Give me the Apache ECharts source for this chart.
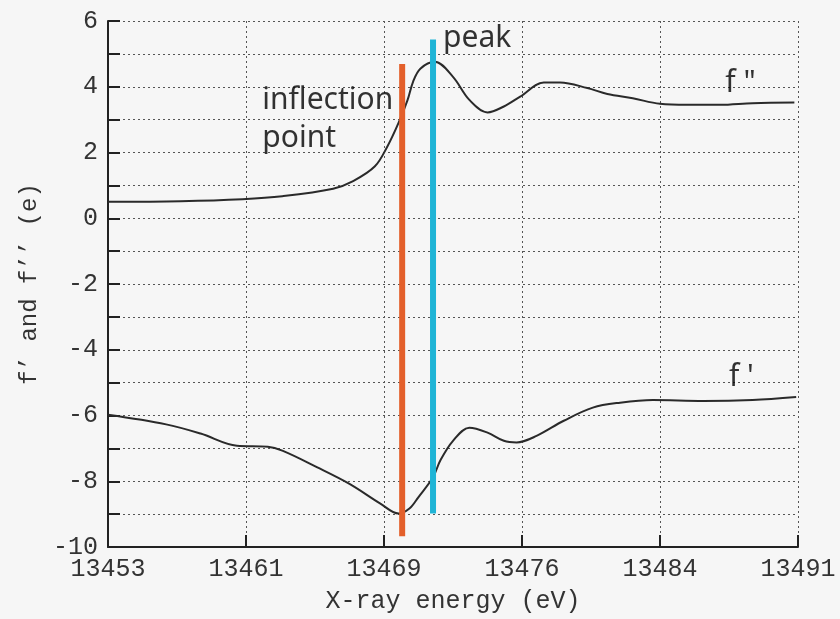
<!DOCTYPE html>
<html>
<head>
<meta charset="utf-8">
<script src="https://cdn.jsdelivr.net/npm/echarts@6/dist/echarts.min.js"></script>
<style>html,body{margin:0;padding:0;background:#f6f6f6;}#c{width:840px;height:619px;}</style>
</head>
<body>
<div id="c"></div>
<script>
// ---- data ----
const xTickLabels = ['13453', '13461', '13469', '13476', '13484', '13491'];
const energyFpp = [13453, 13457.0, 13460.4, 13462.6, 13465.4, 13466.5, 13467.7, 13468.4, 13469.0, 13469.5, 13469.8, 13470.2, 13471.0, 13472.0, 13472.9, 13473.9, 13474.8, 13475.7, 13477.0, 13477.9, 13479.4, 13480.5, 13481.9, 13483.4, 13484.9, 13486.7, 13488.5, 13490.8];
const fpp = [0.50, 0.52, 0.58, 0.67, 0.90, 1.13, 1.58, 2.20, 2.90, 3.60, 4.15, 4.55, 4.76, 4.30, 3.60, 3.22, 3.40, 3.70, 4.13, 4.13, 3.96, 3.78, 3.65, 3.48, 3.45, 3.45, 3.50, 3.52];
const energyFp = [13453, 13456.2, 13458.1, 13460.1, 13461.8, 13462.6, 13464.5, 13466.3, 13468.0, 13469.0, 13469.6, 13470.1, 13470.9, 13471.3, 13472.0, 13472.9, 13473.9, 13474.8, 13475.5, 13476.6, 13478.1, 13479.7, 13481.2, 13483.0, 13485.8, 13488.5, 13490.9];
const fp = [-5.98, -6.27, -6.55, -6.92, -6.95, -7.07, -7.57, -8.08, -8.68, -8.98, -8.83, -8.48, -7.88, -7.37, -6.77, -6.37, -6.52, -6.77, -6.82, -6.62, -6.16, -5.76, -5.61, -5.53, -5.56, -5.53, -5.44];
const inflectionX = 13469.2, inflectionY = [-9.67, 4.69];
const peakX = 13470.9, peakY = [-8.98, 5.44];
const annotations = [
  { text: 'inflection\npoint', x: 13461.5, y: 3.0 },
  { text: 'peak', x: 13471.45, y: 5.48 },
  { text: 'f "', x: 13487.0, y: 4.09 },
  { text: "f '", x: 13487.2, y: -4.85 }
];

const pair = (xs, ys) => xs.map((x, i) => [x, ys[i]]);
const mono = 'Liberation Mono';
const chart = echarts.init(document.getElementById('c'));
chart.setOption({
  backgroundColor: '#f6f6f6',
  animation: false,
  grid: { left: 108, right: 42, top: 21, bottom: 69, containLabel: false },
  xAxis: {
    type: 'value', min: 13453, max: 13491, interval: 7.6,
    name: 'X-ray energy (eV)', nameLocation: 'middle', nameGap: 42,
    nameTextStyle: { fontFamily: mono, fontSize: 25, color: '#333' },
    axisLine: { show: true, onZero: false, lineStyle: { color: '#222', width: 2 } },
    axisTick: { show: true, inside: true, length: 12, lineStyle: { color: '#222', width: 2 } },
    axisLabel: { fontFamily: mono, fontSize: 25, color: '#333', margin: 10,
      formatter: (v) => xTickLabels[Math.round((v - 13453) / 7.6)] },
    splitLine: { show: true, lineStyle: { type: [2, 3], color: '#555', width: 1 } }
  },
  yAxis: {
    type: 'value', min: -10, max: 6, interval: 1,
    name: 'f’ and f’’ (e)', nameLocation: 'middle', nameGap: 66,
    nameTextStyle: { fontFamily: mono, fontSize: 24, color: '#333' },
    axisLine: { show: true, onZero: false, lineStyle: { color: '#222', width: 2 } },
    axisTick: { show: true, inside: true, length: 12, lineStyle: { color: '#222', width: 2 } },
    axisLabel: { fontFamily: mono, fontSize: 25, color: '#333', margin: 10,
      formatter: (v) => (v % 2 === 0 ? String(v) : '') },
    splitLine: { show: true, lineStyle: { type: [2, 3], color: '#555', width: 1 } }
  },
  series: [
    { type: 'line', data: pair(energyFpp, fpp), smooth: 0.35, showSymbol: false,
      lineStyle: { color: '#2a2a2a', width: 2 } },
    { type: 'line', data: pair(energyFp, fp), smooth: 0.35, showSymbol: false,
      lineStyle: { color: '#2a2a2a', width: 2 } },
    { type: 'line', data: inflectionY.map(y => [inflectionX, y]), showSymbol: false,
      lineStyle: { color: '#e35f2a', width: 6, cap: 'butt' } },
    { type: 'line', data: peakY.map(y => [peakX, y]), showSymbol: false,
      lineStyle: { color: '#1fb4d6', width: 6, cap: 'butt' } },
    { type: 'scatter', symbolSize: 0, silent: true,
      data: annotations.map(a => ({ value: [a.x, a.y], name: a.text })),
      label: { show: true, position: 'right', distance: 0, formatter: p => p.name,
        fontFamily: 'Noto Sans', fontSize: 30, lineHeight: 38, color: '#000', align: 'left' } }
  ]
});
</script>
</body>
</html>
